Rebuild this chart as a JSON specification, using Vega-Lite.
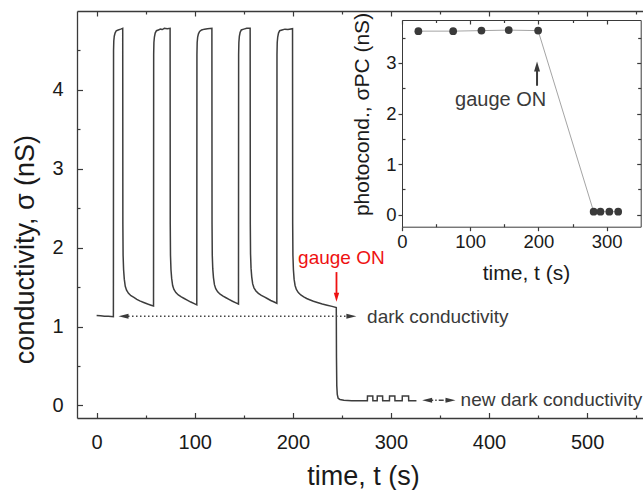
{
  "$schema": "https://vega.github.io/schema/vega-lite/v6.json",
  "width": 569,
  "height": 407,
  "autosize": {"type": "none"},
  "padding": {"left": 77, "top": 11, "right": 0, "bottom": 72},
  "background": "white",
  "config": {
    "view": {"stroke": null},
    "font": "Liberation Sans",
    "axis": {"grid": false, "domainColor": "#3a3a3a", "tickColor": "#3a3a3a", "labelColor": "#1a1a1a", "titleColor": "#1a1a1a", "labelFont": "Liberation Sans", "titleFont": "Liberation Sans", "titleFontWeight": "normal", "labelFlush": false, "labelOverlap": false, "domainWidth": 1.3, "tickWidth": 1.2}
  },
  "datasets": {
    "main": [
      {"t": 0, "s": 1.14}, {"t": 4, "s": 1.135}, {"t": 8, "s": 1.13}, {"t": 12, "s": 1.13}, {"t": 17.1, "s": 1.125},
      {"t": 17.25, "s": 4.5}, {"t": 17.5, "s": 4.62}, {"t": 18, "s": 4.68}, {"t": 18.8, "s": 4.72}, {"t": 20, "s": 4.75}, {"t": 22, "s": 4.76}, {"t": 24.5, "s": 4.77}, {"t": 26.6, "s": 4.78},
      {"t": 26.75, "s": 2.3}, {"t": 27, "s": 1.9}, {"t": 27.5, "s": 1.72}, {"t": 28.2, "s": 1.6}, {"t": 29.2, "s": 1.51}, {"t": 30.5, "s": 1.46}, {"t": 32.5, "s": 1.42}, {"t": 35, "s": 1.39}, {"t": 38, "s": 1.37}, {"t": 41, "s": 1.345}, {"t": 44, "s": 1.325}, {"t": 48, "s": 1.305}, {"t": 52, "s": 1.285}, {"t": 55.5, "s": 1.27}, {"t": 58, "s": 1.26},
      {"t": 58.15, "s": 4.45}, {"t": 58.4, "s": 4.6}, {"t": 58.9, "s": 4.67}, {"t": 59.7, "s": 4.72}, {"t": 61, "s": 4.75}, {"t": 63, "s": 4.76}, {"t": 65, "s": 4.77}, {"t": 67, "s": 4.765}, {"t": 69, "s": 4.78}, {"t": 72, "s": 4.775}, {"t": 74.9, "s": 4.78},
      {"t": 75.05, "s": 2.3}, {"t": 75.3, "s": 1.9}, {"t": 75.8, "s": 1.72}, {"t": 76.5, "s": 1.61}, {"t": 77.5, "s": 1.52}, {"t": 78.8, "s": 1.47}, {"t": 80.8, "s": 1.43}, {"t": 83.3, "s": 1.4}, {"t": 86.3, "s": 1.375}, {"t": 89.3, "s": 1.355}, {"t": 92.3, "s": 1.335}, {"t": 96, "s": 1.31}, {"t": 99.5, "s": 1.29}, {"t": 102.1, "s": 1.275},
      {"t": 102.25, "s": 4.45}, {"t": 102.5, "s": 4.6}, {"t": 103, "s": 4.67}, {"t": 103.8, "s": 4.71}, {"t": 105, "s": 4.74}, {"t": 107, "s": 4.76}, {"t": 110, "s": 4.77}, {"t": 113, "s": 4.775}, {"t": 117.5, "s": 4.78},
      {"t": 117.65, "s": 2.3}, {"t": 117.9, "s": 1.9}, {"t": 118.4, "s": 1.73}, {"t": 119.1, "s": 1.62}, {"t": 120.1, "s": 1.53}, {"t": 121.4, "s": 1.48}, {"t": 123.4, "s": 1.44}, {"t": 125.9, "s": 1.41}, {"t": 128.9, "s": 1.385}, {"t": 131.9, "s": 1.365}, {"t": 134.9, "s": 1.345}, {"t": 138.5, "s": 1.32}, {"t": 142, "s": 1.3}, {"t": 144.6, "s": 1.285},
      {"t": 144.75, "s": 4.45}, {"t": 145, "s": 4.6}, {"t": 145.5, "s": 4.68}, {"t": 146.3, "s": 4.73}, {"t": 147.5, "s": 4.76}, {"t": 150, "s": 4.77}, {"t": 153, "s": 4.78}, {"t": 156.5, "s": 4.78},
      {"t": 156.65, "s": 2.3}, {"t": 156.9, "s": 1.92}, {"t": 157.4, "s": 1.74}, {"t": 158.1, "s": 1.63}, {"t": 159.1, "s": 1.54}, {"t": 160.4, "s": 1.49}, {"t": 162.4, "s": 1.45}, {"t": 164.9, "s": 1.42}, {"t": 167.9, "s": 1.395}, {"t": 170.9, "s": 1.375}, {"t": 173.9, "s": 1.355}, {"t": 177.5, "s": 1.33}, {"t": 181, "s": 1.31}, {"t": 183.7, "s": 1.295},
      {"t": 183.85, "s": 4.45}, {"t": 184.1, "s": 4.6}, {"t": 184.6, "s": 4.67}, {"t": 185.4, "s": 4.72}, {"t": 186.6, "s": 4.75}, {"t": 189, "s": 4.76}, {"t": 192, "s": 4.77}, {"t": 195, "s": 4.765}, {"t": 199.7, "s": 4.775},
      {"t": 199.85, "s": 2.3}, {"t": 200.1, "s": 1.9}, {"t": 200.6, "s": 1.72}, {"t": 201.3, "s": 1.6}, {"t": 202.3, "s": 1.52}, {"t": 203.6, "s": 1.47}, {"t": 205.6, "s": 1.43}, {"t": 208.1, "s": 1.4}, {"t": 211.1, "s": 1.375}, {"t": 214.1, "s": 1.355}, {"t": 217.1, "s": 1.34}, {"t": 221, "s": 1.32}, {"t": 225, "s": 1.305}, {"t": 230, "s": 1.285}, {"t": 235, "s": 1.27}, {"t": 240, "s": 1.255}, {"t": 244.3, "s": 1.24},
      {"t": 244.5, "s": 0.6}, {"t": 244.8, "s": 0.25}, {"t": 245.3, "s": 0.14}, {"t": 246.2, "s": 0.09}, {"t": 248, "s": 0.075}, {"t": 252, "s": 0.065}, {"t": 260, "s": 0.06}, {"t": 268, "s": 0.06}, {"t": 276, "s": 0.06},
      {"t": 276.1, "s": 0.12}, {"t": 281.5, "s": 0.12}, {"t": 281.6, "s": 0.06}, {"t": 286, "s": 0.06}, {"t": 286.1, "s": 0.12}, {"t": 291.5, "s": 0.12}, {"t": 291.6, "s": 0.06}, {"t": 298.5, "s": 0.06}, {"t": 298.6, "s": 0.12}, {"t": 304, "s": 0.12}, {"t": 304.1, "s": 0.06}, {"t": 311.5, "s": 0.06}, {"t": 311.6, "s": 0.12}, {"t": 318, "s": 0.12}, {"t": 318.1, "s": 0.06}, {"t": 326, "s": 0.06}
    ],
    "inset": [
      {"t": 24, "s": 3.63}, {"t": 75, "s": 3.63}, {"t": 116.5, "s": 3.64}, {"t": 156.5, "s": 3.65}, {"t": 199.6, "s": 3.64},
      {"t": 281, "s": 0.06}, {"t": 291, "s": 0.06}, {"t": 304, "s": 0.06}, {"t": 317, "s": 0.06}
    ],
    "darkLine": [{"t": 32, "s": 1.13}, {"t": 257, "s": 1.13}],
    "newDarkLine": [{"t": 338, "s": 0.065}, {"t": 359.5, "s": 0.065}],
    "heads": [
      {"t": 27.4, "s": 1.13, "dir": "left"}, {"t": 259.7, "s": 1.13, "dir": "right"},
      {"t": 336.9, "s": 0.065, "dir": "left"}, {"t": 360.7, "s": 0.065, "dir": "right"}
    ],
    "labels": [
      {"t": 275.7, "s": 1.124, "label": "dark conductivity"},
      {"t": 371, "s": 0.067, "label": "new dark conductivity"}
    ],
    "redArrow": [{"t": 244.5, "s": 1.69, "s2": 1.4}],
    "redHead": [{"t": 244.5, "s": 1.372}],
    "redLabel": [{"t": 249.5, "s": 1.87, "label": "gauge ON"}],
    "insetLabel": [{"t": 144.6, "s": 2.27, "label": "gauge ON"}],
    "insetArrow": [{"t": 198, "s": 2.55, "s2": 2.86}],
    "insetHead": [{"t": 198, "s": 2.93}]
  },
  "layer": [
    {
      "layer": [
        {
          "data": {"name": "main"},
          "mark": {"type": "line", "color": "#3d3d3d", "strokeWidth": 1.5},
          "encoding": {
            "x": {"field": "t", "type": "quantitative", "scale": {"domain": [-20, 560], "nice": false, "zero": false},
              "axis": {"orient": "bottom", "values": [0, 100, 200, 300, 400, 500], "tickSize": -5.5, "labelPadding": 19.5, "labelFontSize": 20, "title": "time, t (s)", "titleFontSize": 27, "titleX": 286, "titleY": 66, "titleBaseline": "alphabetic", "titleAlign": "center"}},
            "y": {"field": "s", "type": "quantitative", "scale": {"domain": [-0.16, 5.0], "nice": false, "zero": false},
              "axis": {"orient": "left", "values": [0, 1, 2, 3, 4], "tickSize": -5.5, "labelPadding": 19.5, "labelFontSize": 20, "title": "conductivity, σ (nS)", "titleFontSize": 27, "titleAngle": -90, "titleX": -43.5, "titleY": 238, "titleBaseline": "alphabetic", "titleAlign": "center"}}
          }
        },
        {
          "data": {"name": "darkLine"},
          "mark": {"type": "line", "color": "#444444", "strokeWidth": 1.6, "strokeDash": [1.5, 2.5]},
          "encoding": {
            "x": {"field": "t", "type": "quantitative", "scale": {"domain": [-20, 560], "nice": false, "zero": false},
              "axis": {"orient": "bottom", "values": [50, 150, 250, 350, 450, 550], "tickSize": -3, "labels": false, "domain": false, "title": null}},
            "y": {"field": "s", "type": "quantitative", "scale": {"domain": [-0.16, 5.0], "nice": false, "zero": false},
              "axis": {"orient": "left", "values": [0.5, 1.5, 2.5, 3.5, 4.5], "tickSize": -3, "labels": false, "domain": false, "title": null}}
          }
        },
        {
          "data": {"name": "newDarkLine"},
          "mark": {"type": "line", "color": "#444444", "strokeWidth": 1.6, "strokeDash": [5, 2, 1.5, 2]},
          "encoding": {
            "x": {"field": "t", "type": "quantitative", "scale": {"domain": [-20, 560], "nice": false, "zero": false},
              "axis": {"orient": "top", "values": [0, 100, 200, 300, 400, 500], "tickSize": -5, "labels": false, "domain": true, "title": null}},
            "y": {"field": "s", "type": "quantitative", "scale": {"domain": [-0.16, 5.0], "nice": false, "zero": false}, "axis": null}
          }
        },
        {
          "data": {"name": "heads"},
          "mark": {"type": "point", "filled": true, "color": "#3a3a3a", "opacity": 1, "size": 100, "strokeWidth": 0},
          "encoding": {
            "x": {"field": "t", "type": "quantitative", "scale": {"domain": [-20, 560], "nice": false, "zero": false},
              "axis": {"orient": "top", "values": [50, 150, 250, 350, 450, 550], "tickSize": -3, "labels": false, "domain": false, "title": null}},
            "y": {"field": "s", "type": "quantitative", "scale": {"domain": [-0.16, 5.0], "nice": false, "zero": false}, "axis": null},
            "shape": {"field": "dir", "type": "nominal", "scale": {"domain": ["left", "right"], "range": ["M-1,0L1,-0.5L1,0.5Z", "M1,0L-1,-0.5L-1,0.5Z"]}, "legend": null}
          }
        },
        {
          "data": {"name": "labels"},
          "mark": {"type": "text", "align": "left", "baseline": "middle", "fontSize": 19, "color": "#3a3a3a", "font": "Liberation Sans"},
          "encoding": {
            "x": {"field": "t", "type": "quantitative", "scale": {"domain": [-20, 560], "nice": false, "zero": false}, "axis": null},
            "y": {"field": "s", "type": "quantitative", "scale": {"domain": [-0.16, 5.0], "nice": false, "zero": false}, "axis": null},
            "text": {"field": "label"}
          }
        },
        {
          "data": {"name": "redArrow"},
          "mark": {"type": "rule", "color": "#ee1111", "strokeWidth": 1.8},
          "encoding": {
            "x": {"field": "t", "type": "quantitative", "scale": {"domain": [-20, 560], "nice": false, "zero": false}, "axis": null},
            "y": {"field": "s", "type": "quantitative", "scale": {"domain": [-0.16, 5.0], "nice": false, "zero": false}, "axis": null},
            "y2": {"field": "s2"}
          }
        },
        {
          "data": {"name": "redHead"},
          "mark": {"type": "point", "filled": true, "color": "#ee1111", "opacity": 1, "size": 80, "strokeWidth": 0, "shape": "M0,1L-0.6,-1L0.6,-1Z"},
          "encoding": {
            "x": {"field": "t", "type": "quantitative", "scale": {"domain": [-20, 560], "nice": false, "zero": false}, "axis": null},
            "y": {"field": "s", "type": "quantitative", "scale": {"domain": [-0.16, 5.0], "nice": false, "zero": false}, "axis": null}
          }
        },
        {
          "data": {"name": "redLabel"},
          "mark": {"type": "text", "align": "center", "baseline": "middle", "fontSize": 19, "color": "#ee1111", "font": "Liberation Sans"},
          "encoding": {
            "x": {"field": "t", "type": "quantitative", "scale": {"domain": [-20, 560], "nice": false, "zero": false}, "axis": null},
            "y": {"field": "s", "type": "quantitative", "scale": {"domain": [-0.16, 5.0], "nice": false, "zero": false}, "axis": null},
            "text": {"field": "label"}
          }
        }
      ],
      "resolve": {"axis": {"x": "independent", "y": "independent"}}
    },
    {
      "layer": [
        {
          "data": {"name": "inset"},
          "mark": {"type": "line", "color": "#9a9a9a", "strokeWidth": 0.9},
          "encoding": {
            "x": {"field": "t", "type": "quantitative", "scale": {"domain": [0, 350], "range": [325, 563.7], "nice": false, "zero": false},
              "axis": {"orient": "bottom", "offset": -191.3, "values": [0, 100, 200, 300], "tickSize": 4, "labelPadding": 1.5, "labelFontSize": 18.5, "domainWidth": 1, "title": "time, t (s)", "titleFontSize": 21, "titleX": 449, "titleY": 52.3, "titleBaseline": "alphabetic", "titleAlign": "center"}},
            "y": {"field": "s", "type": "quantitative", "scale": {"domain": [-0.237, 3.85], "range": [215.7, 9], "nice": false, "zero": false},
              "axis": {"orient": "left", "offset": -325, "values": [0, 1, 2, 3], "tickSize": 4, "labelPadding": 2, "labelFontSize": 18.5, "domainWidth": 1, "title": "photocond., σPC (nS)", "titleFontSize": 21, "titleAngle": -90, "titleX": -34, "titleY": 103, "titleBaseline": "alphabetic", "titleAlign": "center"}}
          }
        },
        {
          "data": {"name": "inset"},
          "mark": {"type": "point", "filled": true, "color": "#3a3a3a", "opacity": 1, "size": 60},
          "encoding": {
            "x": {"field": "t", "type": "quantitative", "scale": {"domain": [0, 350], "range": [325, 563.7], "nice": false, "zero": false},
              "axis": {"orient": "bottom", "offset": -191.3, "values": [50, 150, 250], "tickSize": -3, "labels": false, "domain": false, "title": null}},
            "y": {"field": "s", "type": "quantitative", "scale": {"domain": [-0.237, 3.85], "range": [215.7, 9], "nice": false, "zero": false},
              "axis": {"orient": "left", "offset": -325, "values": [0.5, 1.5, 2.5, 3.5], "tickSize": -3, "labels": false, "domain": false, "title": null}}
          }
        },
        {
          "data": {"name": "insetLabel"},
          "mark": {"type": "text", "align": "center", "baseline": "middle", "fontSize": 20, "color": "#3a3a3a", "font": "Liberation Sans"},
          "encoding": {
            "x": {"field": "t", "type": "quantitative", "scale": {"domain": [0, 350], "range": [325, 563.7], "nice": false, "zero": false},
              "axis": {"orient": "top", "offset": -9, "values": [0, 100, 200, 300], "tickSize": -4, "labels": false, "domain": true, "domainWidth": 1, "title": null}},
            "y": {"field": "s", "type": "quantitative", "scale": {"domain": [-0.237, 3.85], "range": [215.7, 9], "nice": false, "zero": false},
              "axis": {"orient": "right", "offset": -5.3, "values": [0, 1, 2, 3], "tickSize": -4, "labels": false, "domain": true, "domainWidth": 1, "title": null}},
            "text": {"field": "label"}
          }
        },
        {
          "data": {"name": "insetArrow"},
          "mark": {"type": "rule", "color": "#3a3a3a", "strokeWidth": 2},
          "encoding": {
            "x": {"field": "t", "type": "quantitative", "scale": {"domain": [0, 350], "range": [325, 563.7], "nice": false, "zero": false},
              "axis": {"orient": "top", "offset": -9, "values": [50, 150, 250], "tickSize": -2.5, "labels": false, "domain": false, "title": null}},
            "y": {"field": "s", "type": "quantitative", "scale": {"domain": [-0.237, 3.85], "range": [215.7, 9], "nice": false, "zero": false},
              "axis": {"orient": "right", "offset": -5.3, "values": [0.5, 1.5, 2.5, 3.5], "tickSize": -3, "labels": false, "domain": false, "title": null}},
            "y2": {"field": "s2"}
          }
        },
        {
          "data": {"name": "insetHead"},
          "mark": {"type": "point", "filled": true, "color": "#3a3a3a", "opacity": 1, "size": 100, "strokeWidth": 0, "shape": "M0,-1L-0.6,1L0.6,1Z"},
          "encoding": {
            "x": {"field": "t", "type": "quantitative", "scale": {"domain": [0, 350], "range": [325, 563.7], "nice": false, "zero": false}, "axis": null},
            "y": {"field": "s", "type": "quantitative", "scale": {"domain": [-0.237, 3.85], "range": [215.7, 9], "nice": false, "zero": false}, "axis": null}
          }
        }
      ],
      "resolve": {"axis": {"x": "independent", "y": "independent"}}
    }
  ],
  "resolve": {"scale": {"x": "independent", "y": "independent"}}
}
